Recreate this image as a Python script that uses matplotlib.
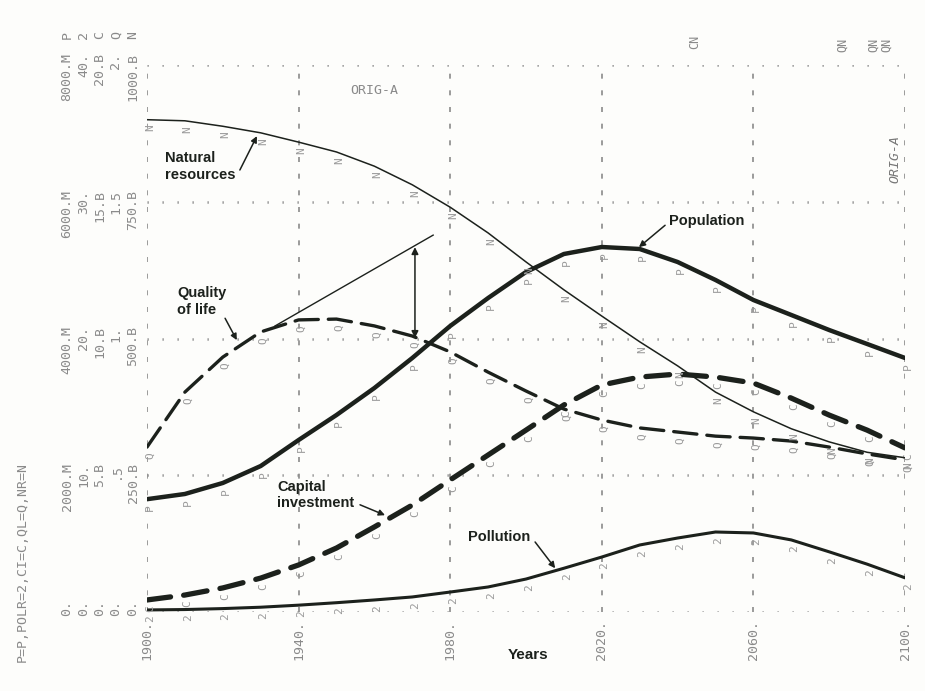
import numpy as np
import matplotlib
matplotlib.use('Agg')
import matplotlib.pyplot as plt

# values
years = [1900, 1910, 1920, 1930, 1940, 1950, 1960, 1970, 1980, 1990, 2000,
         2010, 2020, 2030, 2040, 2050, 2060, 2070, 2080, 2090, 2100]
population = [1650, 1726, 1887, 2135, 2515, 2881, 3276, 3715, 4183, 4592, 4973,
              5236, 5338, 5309, 5119, 4856, 4563, 4344, 4124, 3920, 3715]   # millions
pollution = [0.15, 0.18, 0.25, 0.35, 0.5, 0.68, 0.88, 1.1, 1.46, 1.83, 2.41,
             3.2, 4.02, 4.9, 5.41, 5.85, 5.78, 5.27, 4.4, 3.5, 2.5]
capital = [0.44, 0.62, 0.88, 1.24, 1.72, 2.34, 3.11, 3.91, 4.83, 5.74, 6.65,
           7.57, 8.30, 8.59, 8.70, 8.59, 8.37, 7.82, 7.20, 6.65, 6.00]      # billions
quality = [0.603, 0.804, 0.932, 1.024, 1.068, 1.071, 1.046, 1.009, 0.951, 0.877, 0.808,
           0.742, 0.702, 0.673, 0.658, 0.643, 0.636, 0.625, 0.603, 0.578, 0.556]
resources = [900, 898, 888, 876, 859, 841, 815, 781, 740, 693, 640,
             589, 541, 494, 450, 402, 366, 335, 311, 292, 282]               # billions

p_ticks = ['0.', '2000.M', '4000.M', '6000.M', '8000.M']
polr_ticks = ['0.', '10.', '20.', '30.', '40.']
ci_ticks = ['0.', '5.B', '10.B', '15.B', '20.B']
ql_ticks = ['0.', '.5', '1.', '1.5', '2.']
nr_ticks = ['0.', '250.B', '500.B', '750.B', '1000.B']
symbols = ['P', '2', 'C', 'Q', 'N']
year_ticks = [1900, 1940, 1980, 2020, 2060, 2100]

W, H = 925, 691
ink = '#1c211c'
grey = '#8a8a8a'
mono = 'DejaVu Sans Mono'
bold = ['Liberation Sans', 'DejaVu Sans']

fig = plt.figure(figsize=(W / 100, H / 100), dpi=100)
fig.patch.set_facecolor('#fdfdfb')
rect = [147 / W, 79 / H, 758 / W, 547 / H]
ax = fig.add_axes(rect, label='grid')
ax.set_xlim(1900, 2100)
ax.set_ylim(0, 1)
ax.axis('off')

def px(n):
    # pixels -> axes fraction (vertical)
    return n / 547

# grid
for yr in year_ticks:
    ax.axvline(yr, color=grey, lw=1.2, ls=(0, (3, 7)), zorder=0)
for fr in np.linspace(0, 1, 5):
    ax.axhline(fr, color=grey, lw=1.8, ls=(0, (0.5, 5.5)), zorder=0)

# scale labels
cols = [67, 84, 100, 116, 133]
for col, ticks, sym in zip(cols, [p_ticks, polr_ticks, ci_ticks, ql_ticks, nr_ticks], symbols):
    for fr, t in zip(np.linspace(0, 1, 5), ticks):
        ax.text(col / W, fr + px(12), t, transform=ax.get_yaxis_transform().__class__(fig.transFigure, ax.transAxes),
                rotation=90, ha='center', va='top', fontsize=9.5, family=mono, color=grey)
    ax.text(col / W, 1 + px(30), sym, transform=ax.get_yaxis_transform().__class__(fig.transFigure, ax.transAxes),
            rotation=90, ha='center', va='center', fontsize=9.5, family=mono, color=grey)

for yr in year_ticks:
    ax.text(yr, -px(8), f'{yr}.', rotation=90, ha='center', va='top',
            fontsize=9.5, family=mono, color=grey)

fig.text(22 / W, (691 - 462) / H, 'P=P,POLR=2,CI=C,QL=Q,NR=N', rotation=90,
         ha='center', va='top', fontsize=9.5, family=mono, color=grey)
fig.text(528 / W, (691 - 655) / H, 'Years', ha='center', va='center',
         fontsize=11, fontweight='bold', family=['Liberation Sans Narrow'] + bold, color=ink)

ax.text(1960, 0.954, 'ORIG-A', ha='center', va='center', fontsize=9.5, family=mono, color=grey)
ax.text(2097.4, 0.828, 'ORIG-A', rotation=90, ha='center', va='center', fontsize=9.5,
        family=mono, style='italic', color='#777777')
ax.text(2044.6, 1.042, 'CN', rotation=90, ha='center', va='center', fontsize=8.5, family=mono, color=grey)
for x in [2083.6, 2091.6, 2095.2]:
    ax.text(x, 1.037, 'QN', rotation=90, ha='center', va='center', fontsize=8.5, family=mono, color=grey)

# one layer per variable, each with its own scale
def layer(name, top):
    a = fig.add_axes(rect, label=name, sharex=ax)
    a.set_ylim(0, top)
    a.patch.set_visible(False)
    a.axis('off')
    return a

series = [
    (population, 8000, 'P', dict(lw=3.2, ls='-')),
    (pollution, 40, '2', dict(lw=2.2, ls='-')),
    (capital, 20, 'C', dict(lw=3.8, ls=(0, (4.5, 2.5)), dash_capstyle='round')),
    (quality, 2, 'Q', dict(lw=2.4, ls=(0, (7, 3)), dash_capstyle='round')),
    (resources, 1000, 'N', dict(lw=1.1, ls='-')),
]
for vals, top, sym, style in series:
    a = layer(sym, top)
    for yr, v in zip(years, vals):
        a.annotate(sym, (yr, v), xytext=(2, -6), textcoords='offset points', rotation=90,
                   ha='center', va='center', fontsize=8, family=mono, color='#9a9a9a', zorder=1)
    a.plot(years, vals, color=ink, zorder=3, solid_capstyle='round', **style)

# hand-drawn labels
arrow = dict(arrowstyle='-|>', color=ink, lw=1.1, mutation_scale=9, shrinkA=0, shrinkB=0)
notes = [
    ('Natural\nresources', (1904.7, 0.815), (1924.5, 0.808), (1929.0, 0.870)),
    ('Quality\nof life', (1907.9, 0.567), (1920.6, 0.537), (1923.7, 0.497)),
    ('Capital\ninvestment', (1934.3, 0.214), (1956.2, 0.196), (1962.8, 0.177)),
    ('Pollution', (1984.7, 0.137), (2002.4, 0.128), (2007.7, 0.080)),
    ('Population', (2037.7, 0.715), (2036.7, 0.707), (2029.8, 0.667)),
]
for txt, pos, tail, tip in notes:
    ax.text(pos[0], pos[1], txt, ha='left', va='center', fontsize=10.5, fontweight='bold',
            family=bold, color=ink, linespacing=1.25, zorder=5)
    ax.annotate('', xy=tip, xytext=tail, arrowprops=arrow, zorder=5)

# tangent line and gap arrow
ax.plot([1933.8, 1975.5], [0.523, 0.689], color=ink, lw=1.0, zorder=4)
ax.annotate('', xy=(1970.7, 0.501), xytext=(1970.7, 0.667),
            arrowprops=dict(arrowstyle='<|-|>', color=ink, lw=1.1, mutation_scale=10,
                            shrinkA=0, shrinkB=0), zorder=5)

fig.savefig('out.png', dpi=100, facecolor=fig.get_facecolor())
